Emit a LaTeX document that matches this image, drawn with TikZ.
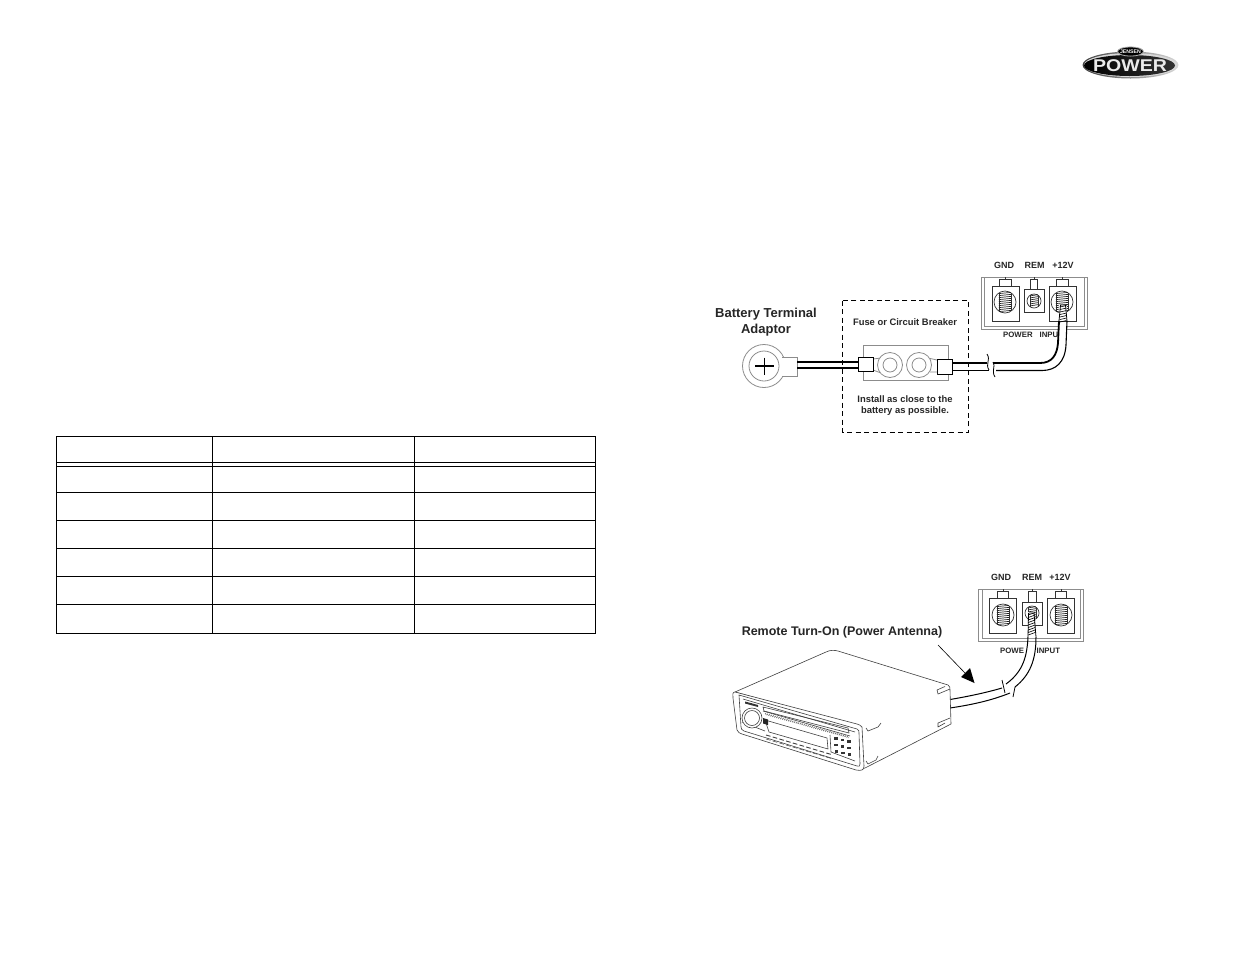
\documentclass[tikz,border=0pt]{standalone}
\usepackage{fontspec}
\setmainfont{Liberation Sans}
\tikzset{
 thinl/.style={line width=0.7pt,black!80},
 grayl/.style={line width=0.8pt,black!45},
 tbl/.style={line width=1.2pt,black},
 lab/.style={font=\bfseries\fontsize{9}{11}\selectfont,inner sep=0pt,text=black!85},
 pwrlab/.style={font=\bfseries\fontsize{7.8}{9}\selectfont,inner sep=0pt,text=black!85,anchor=west},
 smlab/.style={font=\bfseries\fontsize{9.4}{11}\selectfont,inner sep=0pt,align=center,text=black!85},
 biglab/.style={font=\bfseries\fontsize{13}{16}\selectfont,inner sep=0pt,align=center,text=black!85},
}
% box x1,y1,x2,y2, circle cx,cy,r, tab half width, tab top
\newcommand{\terminal}[9]{%
 \draw[thinl,fill=white] (#1,#2) rectangle (#3,#4);
 \draw[thinl] (#5,#6) circle (#7);
 \pgfmathsetmacro{\hw}{#7*0.55}
 \pgfmathsetmacro{\hh}{#7*0.82}
 \pgfmathtruncatemacro{\nn}{\hh}
 \draw[thinl] (#5-\hw,#6-\hh) -- (#5-\hw,#6+\hh) (#5+\hw,#6-\hh) -- (#5+\hw,#6+\hh);
 \foreach \k in {0,...,\nn}{\draw[line width=0.7pt,black!85] (#5-\hw,#6-\hh+\k*2+0.6) -- (#5+\hw,#6-\hh+\k*2-0.6);}
 \draw[thinl,fill=white] (#5-#8,#9) rectangle (#5+#8,#2);
 \draw[thinl] (#5,#9) -- (#5,#9-2);
}
\begin{document}
\begin{tikzpicture}[x=1pt,y=-1pt]
\useasboundingbox (0,0) rectangle (1235,954);
\fill[white] (0,0) rectangle (1235,954);
% table
\draw[tbl] (56.5,436.3) rectangle (595.3,633.3);
\foreach \c in {212.7,414.3}{\draw[tbl] (\c,436.3) -- (\c,633.3);}
\foreach \r in {462.3,466.3,492.3,520.3,548.3,576.3,604.3}{\draw[tbl] (56.5,\r) -- (595.3,\r);}
% logo
\shade[left color=black!75,right color=black!15] (1130.5,65) ellipse (48 and 13.5);
\fill[white!85!black] (1130.5,65) ellipse (46.5 and 12);
\shade[left color=black,right color=black!80] (1129.5,65.5) ellipse (45.5 and 10.5);
\draw[line width=0.8pt,white!70!black,fill=black] (1130.5,51.5) ellipse (13 and 4.6);
\node[font=\bfseries\fontsize{5.2}{5}\selectfont,text=white,inner sep=0pt] (logotop) at (1130.5,51.5) {JENSEN};
\node[font=\bfseries\fontsize{17}{17}\selectfont,text=white!92!black,inner sep=0pt,xscale=1.15] (logo) at (1130,65.5) {POWER};
% top diagram
\draw[line width=0.8pt,dash pattern=on 5pt off 3.5pt] (842.7,300.7) rectangle (968.7,432.3);
\node[biglab] (bta) at (766,322) {Battery Terminal\\Adaptor};
\node[smlab] (fuse) at (905,322) {Fuse or Circuit Breaker};
\node[smlab] (inst) at (905,406) {Install as close to the\\battery as possible.};
% panel top
\draw[grayl,fill=white] (981,277) rectangle (1087,329);
\draw[grayl] (984,277) -- (984,326) -- (1084,326) -- (1084,277);
\terminal{992}{286}{1019}{321}{1005}{302}{11}{6}{279}
\terminal{1024}{289}{1044}{312}{1034}{301}{7}{3.5}{279}
\terminal{1049}{286}{1076}{321}{1062}{302}{11}{6}{279}
\node[lab] (g1) at (1004,265.5) {GND};
\node[lab] (r1) at (1034.5,265.5) {REM};
\node[lab] (v1) at (1063,265.5) {+12V};
\node[pwrlab] (pi1) at (1003,335) {POWER\hspace{4.8pt} INPUT};
% lug
\draw[grayl,fill=white] (764,366) circle (21.5);
\draw[grayl] (764,366) circle (15);
\fill[white] (780,357) rectangle (790,376);
\draw[grayl] (782,357) -- (797,357) -- (797,376) -- (782,376);
\draw[line width=1.3pt] (755,366) -- (774,366) (764.5,357.5) -- (764.5,375);
% cable left
\coordinate (lugend) at (797,361.7);
\coordinate (lugend2) at (797,367.7);
\coordinate (blockl) at (859,361.7);
\coordinate (blockl2) at (859,367.7);
\draw[line width=2.2pt] (lugend) -- (blockl);
\draw[line width=1.9pt] (lugend2) -- (blockl2);
% fuse holder
\draw[grayl,fill=white] (863,345) rectangle (948,380);
\draw[grayl] (873,359) -- (881,358) (873,370) -- (881,373) (928,358) -- (937,360) (928,372) -- (937,372);
\fill[white] (880,355) rectangle (930,376);
\draw[grayl] (890,365) circle (12.5);
\draw[grayl] (890,365) circle (7);
\draw[grayl] (919,365) circle (12.5);
\draw[grayl] (919,365) circle (7);
\draw[line width=0.9pt,fill=white] (858,357) rectangle (873,371.5);
\draw[line width=0.9pt,fill=white] (937,359) rectangle (952,374);
% cable right
\draw[line width=1.8pt] (952,363) -- (987,363);
\draw[line width=1pt] (952,370) -- (989,370);
\fill[white] (1058.5,322) rectangle (1067,345);
\draw[line width=1.8pt] (993,363) -- (1040,363) .. controls (1052,363) and (1057,355) .. (1058,343) -- (1059,321);
\draw[line width=1.1pt] (996,370.5) -- (1042,370.5) .. controls (1056,370.5) and (1065,362) .. (1066,345) -- (1067,321);
\draw[line width=0.8pt] (987,354) .. controls (991,360) and (985,364) .. (989,370);
\draw[line width=0.8pt] (993,362) .. controls (996,366) and (991,371) .. (995,377);
\fill[white] (1059,305) rectangle (1067,321);
\draw[line width=0.8pt] (1059,321) -- (1060.5,305) -- (1065.5,305) -- (1067,321);
\foreach \k in {307,309.5,...,322}{\draw[line width=0.6pt] (1060,\k) -- (1066.5,\k-1.5);}
% bottom diagram panel
\node[biglab,font=\bfseries\fontsize{12.5}{15}\selectfont] (rto) at (842,632.5) {Remote Turn-On (Power Antenna)};
\draw[grayl,fill=white] (978,589) rectangle (1083,641.5);
\draw[grayl] (982,589) -- (982,638) -- (1080,638) -- (1080,589);
\terminal{989}{598}{1016}{633}{1003}{615}{11}{5.5}{591}
\terminal{1022}{602}{1042}{625}{1032}{613}{7}{4}{591}
\terminal{1047}{598}{1074}{633}{1061}{615}{11}{5.5}{591}
\node[lab] (g2) at (1001,577.5) {GND};
\node[lab] (r2) at (1032,577.5) {REM};
\node[lab] (v2) at (1060,577.5) {+12V};
\node[pwrlab] (pi2) at (1000,651) {POWER\hspace{4.8pt} INPUT};
% cable bottom
\fill[white] (1023.5,642) rectangle (1036,660);
\fill[white] (1028,612) -- (1034,612) -- (1036,638) -- (1028,638) -- cycle;
\draw[line width=1pt] (1028,637) .. controls (1027,655) and (1024,671) .. (1006,684);
\draw[line width=1pt] (1036,637) .. controls (1036,660) and (1030,675) .. (1015,687);
\draw[line width=0.8pt] (1028,637) -- (1028.5,613) (1034,613) -- (1036,637) (1028.5,613) -- (1034,613);
\foreach \k in {615,617.5,...,637}{\draw[line width=0.6pt] (1028.3,\k) -- (1035,\k-2.5);}
\draw[line width=0.8pt] (1002,680) -- (1005,693);
\draw[line width=0.8pt] (1015,687) -- (1013,697);
\draw[line width=1pt] (1002,688) .. controls (985,693) and (965,697) .. (950,699.5);
\draw[line width=1pt] (1010,693) .. controls (990,701) and (970,705) .. (950,708);
% arrow
\coordinate (arrowstart) at (938,645);
\coordinate (arrowend) at (974.5,683);
\draw[line width=0.6pt] (arrowstart) -- (965,673);
\fill (arrowend) -- (961,677) -- (970,668) -- cycle;
% head unit
\begin{scope}[line width=0.6pt,black!75,line join=round]
\draw[fill=white] (735,692) -- (826,652) .. controls (830,650) and (834,650) .. (838,651) -- (948,685) .. controls (950,686) and (950,688) .. (950,690) -- (951,724) -- (865,768) -- (862,769) -- (861,727) -- cycle;
\draw[fill=white] (735,692) .. controls (732,692) and (733,695) .. (733,698) -- (737,730) .. controls (738,733) and (740,733) .. (742,734) -- (856,770) .. controls (862,771) and (864,770) .. (864,766) -- (862,727) .. controls (861,725) and (859,725) .. (857,724) -- cycle;
\draw (739,695) -- (857,729) .. controls (859,730) and (859,731) .. (859,733) -- (860,764) .. controls (860,766) and (859,767) .. (857,766) -- (744,731) .. controls (742,730) and (741,729) .. (741,727) -- cycle;
\draw (743,699) -- (855,732);
\draw (763,707) -- (848,728) -- (849,733) -- (764,711) -- cycle;
\draw (763,711) -- (850,736);
\foreach \i in {0,...,40}{\draw[line width=0.4pt] ({765+\i*2.05},{713+\i*0.57}) -- ++(1.5,2.2);}
\draw (765,720) -- (827,738) -- (828,749) -- (769,732) -- cycle;
\draw (742,722) -- (765,731);
\draw (751,705) -- (751,703);
\draw[fill=white] (752,718) circle (10);
\draw (752,718) circle (7.5);
\fill[black!80] (745,701.5) -- (758,705) -- (758,707) -- (745,703.5) -- cycle;
\fill[black!85] (763,718) -- (768,719.5) -- (768,725) -- (763,723.5) -- cycle;
\foreach \i in {0,...,9}{\draw[line width=0.9pt] ({766+\i*6.7},{735+\i*2}) -- ++(4.5,1.3);}
\foreach \i in {0,...,9}{\draw[line width=0.5pt] ({766+\i*6.7},{739+\i*2}) -- ++(4.5,1.3);}
\foreach \i/\j in {0/0,0/1,0/2,1/0,1/1,1/2,2/0,2/1,2/2}{\fill[black!80] ({834+\i*6.5+\j*0.3},{737+\j*6.5+\i*1.6}) rectangle ++(3.5,2.5);}
\draw (830,735) -- (831,752) -- (855,761);
% side notches
\draw (866,728) -- (868,731) -- (878,727) -- (881,723);
\draw (866,761) -- (868,764) -- (876,760) -- (878,756);
\draw (945,686.5) -- (937,690) -- (938,694) -- (950,689);
\draw (945,723) -- (938,727) -- (938,723) -- (950,718);
\end{scope}
\end{tikzpicture}
\end{document}
